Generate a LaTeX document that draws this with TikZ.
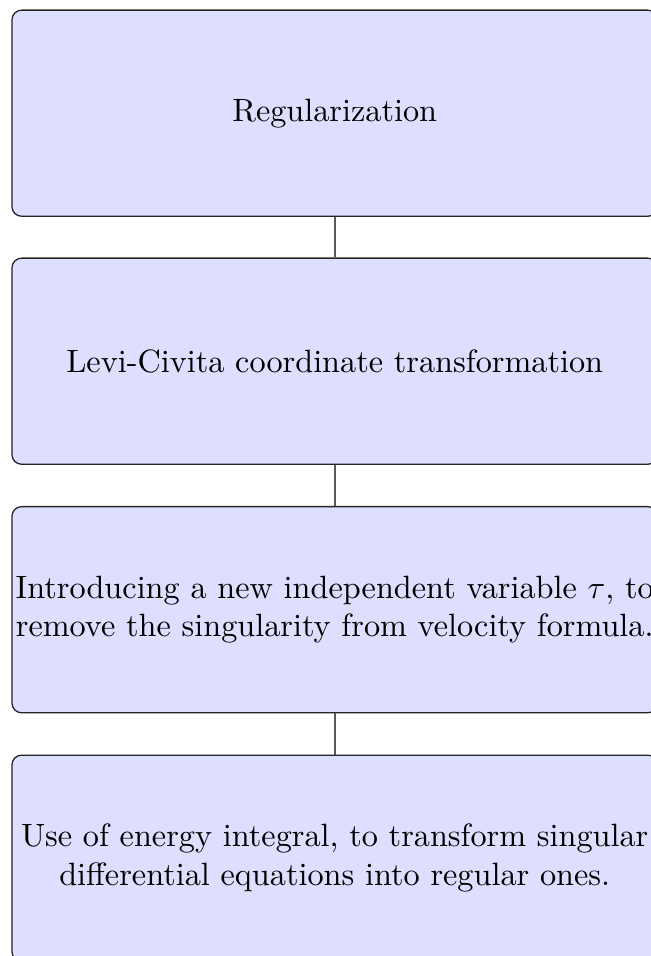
\documentclass[tikz,border=0pt]{standalone}
\begin{document}
\begin{tikzpicture}[x=0.31pt,y=-0.31pt,
  stagebox/.style={draw=black!85, fill=blue!13, rounded corners=3pt, line width=0.4pt,
    minimum width=200.1pt, minimum height=63.9pt, align=center, inner sep=0pt},
  link/.style={draw=black!65, line width=0.6pt}]
\useasboundingbox (0,0) rectangle (650,956);
\node[stagebox] (b1) at (334.7,113.2) {Regularization};
\node[stagebox] (b2) at (334.7,361.2) {Levi-Civita coordinate transformation};
\node[stagebox] (b3) at (334.7,609.7) {Introducing a new independent variable $\tau$, to\\remove the singularity from velocity formula.};
\node[stagebox] (b4) at (334.7,858.2) {Use of energy integral, to transform singular\\differential equations into regular ones.};
\draw[link] (b1) -- (b2);
\draw[link] (b2) -- (b3);
\draw[link] (b3) -- (b4);
\end{tikzpicture}
\end{document}
